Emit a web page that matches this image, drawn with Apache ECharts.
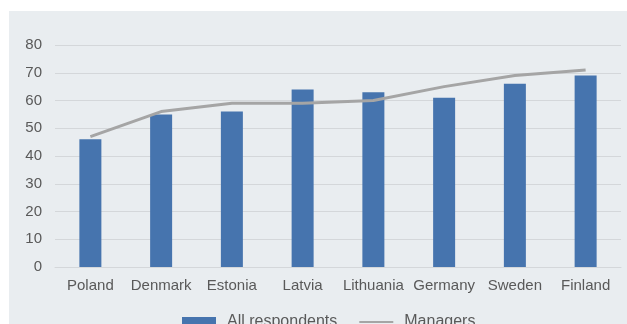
<!DOCTYPE html>
<html><head><meta charset="utf-8">
<script src="https://cdn.jsdelivr.net/npm/echarts@6/dist/echarts.min.js"></script>
<style>html,body{margin:0;padding:0;background:#fff;}#c{width:627px;height:324px;}</style>
</head><body><div id="c"></div>
<script>
const categories = ['Poland','Denmark','Estonia','Latvia','Lithuania','Germany','Sweden','Finland'];
const allRespondents = [46, 55, 56, 64, 63, 61, 66, 69];
const managers = [47, 56, 59, 59, 60, 65, 69, 71];
const yTicks = [0, 10, 20, 30, 40, 50, 60, 70, 80];

const chart = echarts.init(document.getElementById('c'), null, {renderer: 'canvas'});
const font = 'Liberation Sans, Arial, sans-serif';
chart.setOption({
  animation: false,
  graphic: [{type: 'rect', left: 9, top: 11, shape: {width: 618, height: 313}, style: {fill: '#e9edf0'}, z: -10}],
  grid: {left: 55, right: 6, top: 45, bottom: 57},
  legend: {
    left: 182, top: 314, padding: 0, itemWidth: 34, itemHeight: 10, itemGap: 21,
    textStyle: {fontFamily: font, fontSize: 16, color: '#595959', padding: [0, 0, 0, 6]},
    data: [{name: 'All respondents', icon: 'rect'}, {name: 'Managers', itemStyle: {opacity: 0}}]
  },
  xAxis: {
    type: 'category', data: categories,
    axisLine: {show: true, lineStyle: {color: '#d4d7da', width: 1}},
    axisTick: {show: false},
    axisLabel: {fontFamily: font, fontSize: 15, color: '#595959', margin: 11, interval: 0}
  },
  yAxis: {
    type: 'value', min: yTicks[0], max: yTicks[yTicks.length - 1], interval: 10,
    axisLine: {show: false}, axisTick: {show: false},
    splitLine: {lineStyle: {color: '#d4d7da', width: 1}},
    axisLabel: {fontFamily: font, fontSize: 15, color: '#595959', margin: 13}
  },
  series: [
    {name: 'All respondents', type: 'bar', data: allRespondents, barWidth: 22,
     itemStyle: {color: '#4674ae'}},
    {name: 'Managers', type: 'line', data: managers, symbol: 'none', smooth: false,
     lineStyle: {color: '#a5a5a5', width: 3}, itemStyle: {color: '#a5a5a5'}}
  ]
});
</script></body></html>
